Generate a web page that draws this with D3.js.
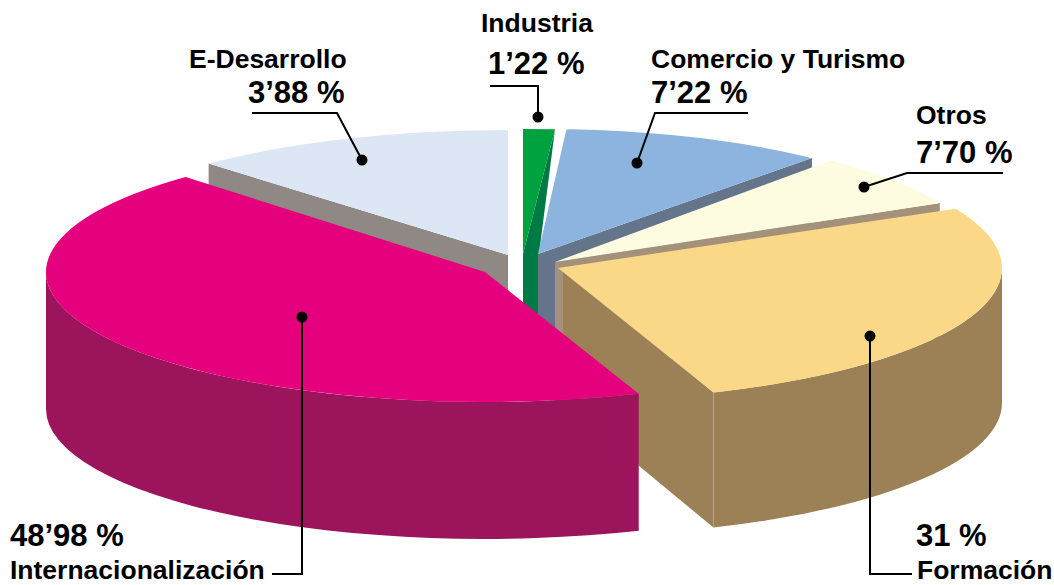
<!DOCTYPE html>
<html>
<head>
<meta charset="utf-8">
<script src="https://d3js.org/d3.v7.min.js"></script>
<style>
  html, body { margin: 0; padding: 0; background: #fff; }
  text { font-family: "Liberation Sans", Arial, sans-serif; font-weight: bold; fill: #000; }
</style>
</head>
<body>
<script>
const width = 1054;
const height = 585;

// pie goes clockwise from 12 o'clock
const categories = ['Industria', 'Comercio y Turismo', 'Otros', 'Formación', 'Internacionalización', 'E-Desarrollo'];
const shareLabels = ['1’22 %', '7’22 %', '7’70 %', '31 %', '48’98 %', '3’88 %'];
// the drawn wedges do not follow the printed shares, so these are the sweeps (degrees)
const drawnSweep = [3.8, 36, 23.7, 96, 157.5, 43];

const topColors = ['#00a23f', '#8cb4df', '#fefce0', '#fad888', '#e5007d', '#dde6f4'];
const wallColors = ['#007a45', '#64748a', '#a3917a', '#9c8056', '#9c145c', '#8f8885'];

// each slice is pulled out on its own: [apex x, apex y, radius x, radius y, depth]
const sliceGeom = [
  [523, 254, 483, 125, 135],
  [538, 254, 428, 125, 135],
  [555, 262, 430, 132, 135],
  [558, 268, 444, 133, 135],
  [485, 272, 439, 130, 137],
  [508, 255, 439, 125, 135]
];
const cornerRadii = [0, 1, 0.6, 0.8, 0, 1];

// leader lines, dot first
const leaders = [
  [[538, 117], [538, 86], [490, 86]],
  [[637, 163], [655, 113], [748, 113]],
  [[864, 187], [907, 173], [1003, 173]],
  [[870, 336], [870, 574], [912, 574]],
  [[302, 317], [302, 574], [272, 574]],
  [[362, 160], [337, 113], [252, 113]]
];

// name and share text: [x, baseline]
const namePos = [
  [481, 32], [651, 68], [916, 124], [917, 579], [10, 579], [189, 68]
];
const sharePos = [
  [488, 74], [651, 103], [916, 163], [916, 546], [10, 546], [248, 103]
];

const svg = d3.select('body')
  .append('svg')
  .attr('width', width)
  .attr('height', height)
  .attr('viewBox', [0, 0, width, height])
  .style('display', 'block');

const pie = d3.pie().sort(null).value(d => d);
const arcs = pie(drawnSweep);

const slices = arcs.map((a, i) => {
  const [cx, cy, rx, ry, depth] = sliceGeom[i];
  return { a0: a.startAngle, a1: a.endAngle, cx, cy, rx, ry, depth, top: topColors[i], wall: wallColors[i], arc: a };
});

function rim(s, a) {
  return [s.cx + s.rx * Math.sin(a), s.cy - s.ry * Math.cos(a)];
}

// flat wall from the apex out to the rim at angle a
function sideWall(s, a, inset = 0) {
  const p = rim(s, a);
  const x = s.cx + inset;
  return `M${x},${s.cy}L${p}L${p[0]},${p[1] + s.depth}L${x},${s.cy + s.depth}Z`;
}

// curved wall along the rim
function outerWall(s, a0, a1) {
  const p0 = rim(s, a0);
  const p1 = rim(s, a1);
  return `M${p0}A${s.rx},${s.ry} 0 0 1 ${p1}L${p1[0]},${p1[1] + s.depth}` +
    `A${s.rx},${s.ry} 0 0 0 ${p0[0]},${p0[1] + s.depth}Z`;
}

// industria: its wall tapers in, from the back corner to a 16px wide front
function taperedWall(s, a) {
  const p = rim(s, a);
  const w = 16;
  return `M${s.cx},${s.cy}L${p}L${s.cx + w},${s.cy}L${s.cx + w},${s.cy + s.depth}L${s.cx},${s.cy + s.depth}Z`;
}

// painter's order, back to front
const order = [5, 0, 1, 2, 3, 4];
order.forEach(i => {
  const s = slices[i];
  const g = svg.append('g');
  const walls = [];
  if (i === 0) walls.push(taperedWall(s, s.a1));
  else if (i === 5) walls.push(sideWall(s, s.a0));
  else if (i === 3) walls.push(sideWall(s, s.a1, 5));
  else if (i !== 4) walls.push(sideWall(s, s.a1));
  // only the part of the rim that faces the viewer
  if (i === 3) walls.push(outerWall(s, Math.PI / 2, s.a1));
  if (i === 4) walls.push(outerWall(s, s.a0, Math.PI * 1.5));
  g.selectAll('path.wall')
    .data(walls)
    .join('path')
    .attr('class', 'wall')
    .attr('fill', s.wall)
    .attr('d', d => d);

  // thin highlight on the corner of Formación
  if (i === 3) {
    const p = rim(s, s.a1);
    g.append('line')
      .attr('x1', p[0]).attr('y1', p[1])
      .attr('x2', p[0]).attr('y2', p[1] + s.depth - 7)
      .attr('stroke', '#b8ab93')
      .attr('stroke-width', 0.8);
  }

  const arc = d3.arc().innerRadius(0).outerRadius(100).cornerRadius(cornerRadii[i]);
  g.append('path')
    .attr('fill', s.top)
    .attr('transform', `translate(${s.cx},${s.cy}) scale(${s.rx / 100},${s.ry / 100})`)
    .attr('d', arc(s.arc));
});

// leader lines and dots
const line = d3.line();
svg.append('g')
  .selectAll('path')
  .data(leaders)
  .join('path')
  .attr('fill', 'none')
  .attr('stroke', '#000')
  .attr('stroke-width', 2)
  .attr('d', d => line(d));

svg.append('g')
  .selectAll('circle')
  .data(leaders)
  .join('circle')
  .attr('cx', d => d[0][0])
  .attr('cy', d => d[0][1])
  .attr('r', 5.5)
  .attr('fill', '#000');

svg.append('g')
  .selectAll('text')
  .data(categories)
  .join('text')
  .attr('x', (d, i) => namePos[i][0])
  .attr('y', (d, i) => namePos[i][1])
  .attr('font-size', 26.5)
  .text(d => d);

svg.append('g')
  .selectAll('text')
  .data(shareLabels)
  .join('text')
  .attr('x', (d, i) => sharePos[i][0])
  .attr('y', (d, i) => sharePos[i][1])
  .attr('font-size', 31)
  .text(d => d);
</script>
</body>
</html>
